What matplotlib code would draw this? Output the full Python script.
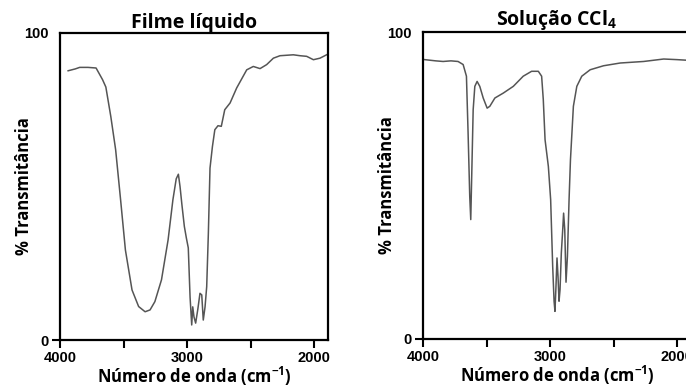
import matplotlib
matplotlib.use("Agg")
import matplotlib.pyplot as plt
from matplotlib.ticker import FixedLocator

plt.rcParams['font.family'] = ['Open Sans', 'DejaVu Sans']
plt.rcParams['mathtext.fontset'] = 'custom'
plt.rcParams['mathtext.bf'] = 'Open Sans:bold'
plt.rcParams['mathtext.rm'] = 'Open Sans:bold'
plt.rcParams['mathtext.default'] = 'bf'

# Left: liquid film spectrum (wavenumber cm-1, % transmittance)
film_wn = [3936, 3880, 3845, 3780, 3716, 3665, 3639, 3600, 3562, 3523, 3485, 3433,
           3381, 3330, 3291, 3253, 3201, 3149, 3111, 3085, 3068, 3055, 3040, 3021,
           3005, 2990, 2976, 2963, 2955, 2945, 2932, 2915, 2898, 2884, 2872, 2858,
           2845, 2832, 2819, 2800, 2781, 2756, 2730, 2703, 2661, 2609, 2530, 2478,
           2425, 2373, 2320, 2268, 2163, 2110, 2058, 2005, 1953, 1887]
film_t = [87.7, 88.3, 88.8, 88.8, 88.6, 84.8, 82.4, 72.8, 62.0, 45.7, 29.3, 16.3,
          10.9, 9.2, 9.8, 12.5, 19.6, 32.6, 45.7, 52.5, 54.0, 50.0, 44.0, 37.0,
          33.2, 30.0, 14.0, 4.9, 10.8, 7.5, 5.5, 10.0, 15.2, 14.7, 6.5, 10.8,
          17.4, 34.7, 56.0, 63.0, 68.5, 69.8, 69.6, 75.0, 77.2, 82.1, 88.0, 89.1,
          88.4, 89.7, 91.8, 92.6, 92.9, 92.6, 92.4, 91.3, 91.8, 93.2]

# Right: CCl4 solution spectrum
sol_wn = [3987, 3900, 3842, 3780, 3724, 3684, 3658, 3645, 3632, 3624, 3616, 3605,
          3592, 3574, 3553, 3526, 3495, 3474, 3434, 3368, 3289, 3211, 3145, 3092,
          3066, 3053, 3039, 3013, 2995, 2979, 2968, 2961, 2953, 2945, 2937, 2929,
          2921, 2911, 2900, 2893, 2884, 2874, 2863, 2850, 2839, 2816, 2789, 2750,
          2684, 2579, 2447, 2263, 2105, 2000, 1921]
sol_t = [91.0, 90.6, 90.4, 90.6, 90.4, 89.4, 85.6, 67.1, 46.5, 38.9, 54.0, 74.7,
         82.3, 83.9, 82.3, 78.5, 75.2, 75.8, 78.5, 80.1, 82.3, 85.6, 87.2, 87.2,
         85.6, 78.0, 64.9, 56.2, 45.4, 23.7, 12.3, 9.0, 17.2, 26.4, 20.4, 12.3,
         16.1, 28.0, 35.6, 41.0, 35.6, 18.5, 26.9, 45.4, 58.4, 75.8, 82.3, 85.6,
         87.7, 89.0, 89.9, 90.4, 91.2, 91.0, 90.8]

titles = ["Filme líquido", "Solução CCl$_4$"]
xlabel = "Número de onda (cm$^{-1}$)"
ylabel = "% Transmitância"
x_major = [4000, 3000, 2000]
x_minor = [3500, 2500]
y_ticks = [0, 100]

W, H = 686, 387
fig = plt.figure(figsize=(W / 100, H / 100), dpi=100)

panels = [
    (film_wn, film_t, 60, 340),
    (sol_wn, sol_t, 423, 339),
]
for i, (wn, t, px_left, px_bottom) in enumerate(panels):
    ax = fig.add_axes([px_left / W, (H - px_bottom) / H, 268 / W, 307 / H])
    ax.plot(wn, t, color='#555555', lw=1.1)
    ax.set_xlim(4000, 1890)
    ax.set_ylim(0, 100)
    ax.xaxis.set_major_locator(FixedLocator(x_major))
    ax.xaxis.set_minor_locator(FixedLocator(x_minor))
    ax.set_yticks(y_ticks)
    ax.tick_params(axis='both', which='both', direction='out', length=6, width=1.5,
                   labelsize=10.5, pad=2)
    ax.yaxis.get_major_ticks()[1].tick1line.set_visible(False)
    for lab in ax.get_xticklabels() + ax.get_yticklabels():
        lab.set_fontfamily(['Liberation Sans'])
        lab.set_fontweight('bold')
        lab.set_fontsize(10.5)
    for sp in ax.spines.values():
        sp.set_linewidth(1.6)
    ax.set_title(titles[i], fontsize=14, fontweight='bold', pad=1)
    ax.set_xlabel(xlabel, fontsize=12, fontweight='bold', va='center')
    ax.xaxis.set_label_coords(0.5, -36 / 307)
    ax.set_ylabel(ylabel, fontsize=12, fontweight='bold', va='center')
    ax.yaxis.set_label_coords(-36 / 268, 0.5)

fig.savefig("out.png", dpi=100)
